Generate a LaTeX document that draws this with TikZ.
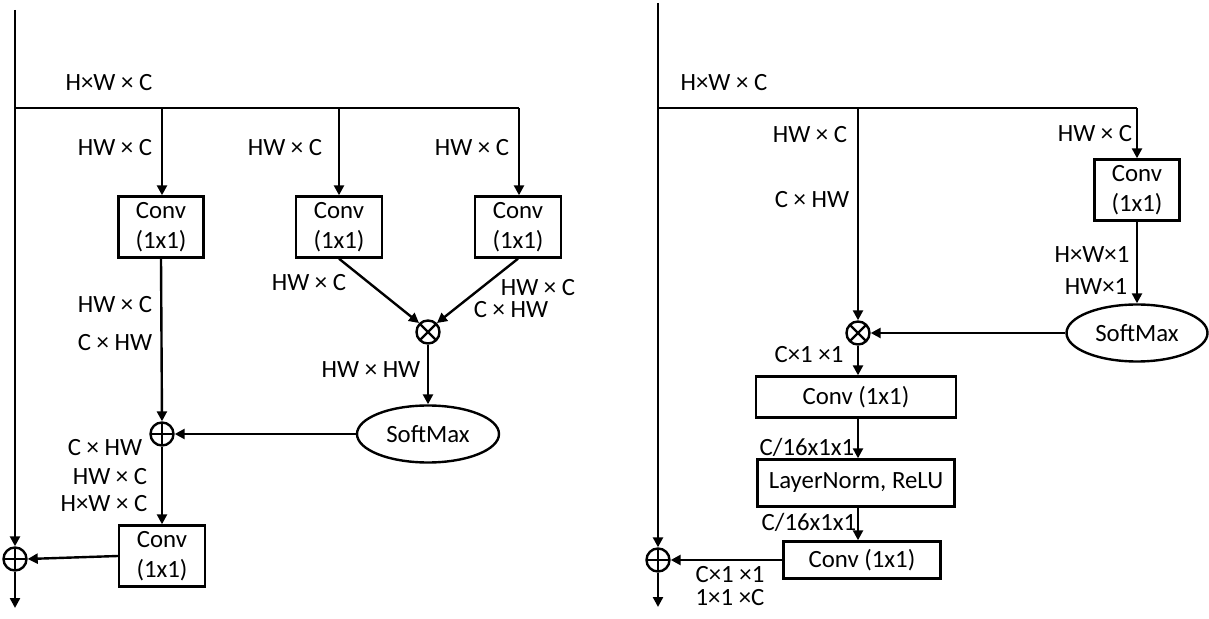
\documentclass[tikz,border=0pt]{standalone}
\usepackage{fontspec}
\setmainfont{Carlito}
\usetikzlibrary{arrows.meta,shapes.geometric,calc}
\begin{document}
\begin{tikzpicture}[x=0.5pt,y=-0.5pt,line width=1.2pt,
  txt/.style={font=\fontsize{12.4}{14.8}\selectfont, inner sep=0pt},
  lbl/.style={txt},
  box/.style={txt, draw, line width=1.2pt, align=center},
  ell/.style={txt, draw, ellipse, line width=1.2pt, inner sep=0pt},
  arr/.style={-{Triangle[length=5pt,width=5pt]}},
  op/.style={circle, draw, line width=1.2pt, minimum size=11.5pt, inner sep=0pt},
  otimes/.style={op, path picture={
    \draw ([shift={(45:6pt)}]path picture bounding box.center) -- ([shift={(225:6pt)}]path picture bounding box.center);
    \draw ([shift={(135:6pt)}]path picture bounding box.center) -- ([shift={(315:6pt)}]path picture bounding box.center);}},
  oplus/.style={op, path picture={
    \draw (path picture bounding box.north) -- (path picture bounding box.south);
    \draw (path picture bounding box.west) -- (path picture bounding box.east);}}
]
\useasboundingbox (0,0) rectangle (1209,619);

% ================= LEFT =================
\coordinate (Ltop) at (15,10);
\coordinate (Lj) at (15,108);
\coordinate (Lend) at (15,608);
\coordinate (b1) at (162,108);
\coordinate (b2) at (339,108);
\coordinate (b3) at (519,108);

\node[box, minimum width=42.5pt, minimum height=30.5pt] (c1) at (161,227) {Conv\\(1x1)};
\node[box, minimum width=43pt, minimum height=30.5pt] (c2) at (339,227) {Conv\\(1x1)};
\node[box, minimum width=43pt, minimum height=30.5pt] (c3) at (518,227) {Conv\\(1x1)};
\node[otimes] (m1) at (428,332) {};
\node[ell, minimum width=71pt, minimum height=28.5pt] (s1) at (428,434) {SoftMax};
\node[oplus] (a1) at (162,434) {};
\node[box, minimum width=43pt, minimum height=30.5pt] (c4) at (162,556) {Conv\\(1x1)};
\node[oplus] (a2) at (15,559) {};

\draw (Lj) -- (b3);
\draw[arr] (Ltop) -- (a2.north);
\draw[arr] (a2.south) -- (Lend);
\draw[arr] (b1) -- (b1 |- c1.north);
\draw[arr] (b2) -- (c2.north);
\draw[arr] (b3) -- (b3 |- c3.north);
\draw[arr] (c2.south) -- (m1.north west);
\draw[arr] (c3.south) -- (m1.north east);
\draw[arr] (m1.south) -- (s1.north);
\draw[arr] (c1.south) -- (a1.north);
\draw[arr] (s1.west) -- (a1.east);
\draw[arr] (a1.south) -- (c4.north);
\draw[arr] (c4.west) -- (a2.east);

\node[lbl] (l1) at (109,83) {H×W × C};
\node[lbl] (l2) at (115,148) {HW × C};
\node[lbl] (l3) at (285,148) {HW × C};
\node[lbl] (l4) at (472,148) {HW × C};
\node[lbl] (l5) at (115,305) {HW × C};
\node[lbl] (l6) at (115,343) {C × HW};
\node[lbl] (l7) at (309,283) {HW × C};
\node[lbl] (l8) at (538,288) {HW × C};
\node[lbl] (l9) at (511,310) {C × HW};
\node[lbl] (l10) at (371,370) {HW × HW};
\node[lbl] (l11) at (105,448) {C × HW};
\node[lbl] (l12) at (110,477) {HW × C};
\node[lbl] (l13) at (104,504) {H×W × C};

% ================= RIGHT =================
\coordinate (Rtop) at (658,3);
\coordinate (Rj) at (658,108);
\coordinate (Rend) at (658,607);
\coordinate (r1) at (858,108);
\coordinate (r2) at (1137,108);

\node[box, minimum width=42.5pt, minimum height=30.5pt] (d1) at (1137,190) {Conv\\(1x1)};
\node[ell, minimum width=70.5pt, minimum height=28.5pt] (s2) at (1137,333) {SoftMax};
\node[otimes] (m2) at (858,333) {};
\node[box, minimum width=100pt, minimum height=20.5pt] (d2) at (856,397) {Conv (1x1)};
\node[box, minimum width=98.5pt, minimum height=23.5pt] (d3) at (856,483) {LayerNorm, ReLU};
\node[box, minimum width=78.5pt, minimum height=18.5pt] (d4) at (862,560) {Conv (1x1)};
\node[oplus] (a3) at (658,560) {};

\draw (Rj) -- (r2);
\draw[arr] (Rtop) -- (a3.north);
\draw[arr] (a3.south) -- (Rend);
\draw[arr] (r1) -- (m2.north);
\draw[arr] (r2) -- (d1.north);
\draw[arr] (d1.south) -- (s2.north);
\draw[arr] (s2.west) -- (m2.east);
\draw[arr] (m2.south) -- (m2.south |- d2.north);
\draw[arr] (m2.south |- d2.south) -- (m2.south |- d3.north);
\draw[arr] (m2.south |- d3.south) -- (m2.south |- d4.north);
\draw[arr] (d4.west) -- (a3.east);

\node[lbl] (k1) at (724,83) {H×W × C};
\node[lbl] (k2) at (810,135) {HW × C};
\node[lbl] (k3) at (812,200) {C × HW};
\node[lbl] (k4) at (1095,134) {HW × C};
\node[lbl] (k5) at (1092,255) {H×W×1};
\node[lbl] (k6) at (1096,287) {HW×1};
\node[lbl] (k7) at (809,355) {C×1 ×1};
\node[lbl] (k8) at (807,447) {C/16x1x1};
\node[lbl] (k9) at (809,522) {C/16x1x1};
\node[lbl] (k10) at (730,575) {C×1 ×1};
\node[lbl] (k11) at (730,598) {1×1 ×C};
\end{tikzpicture}
\end{document}
